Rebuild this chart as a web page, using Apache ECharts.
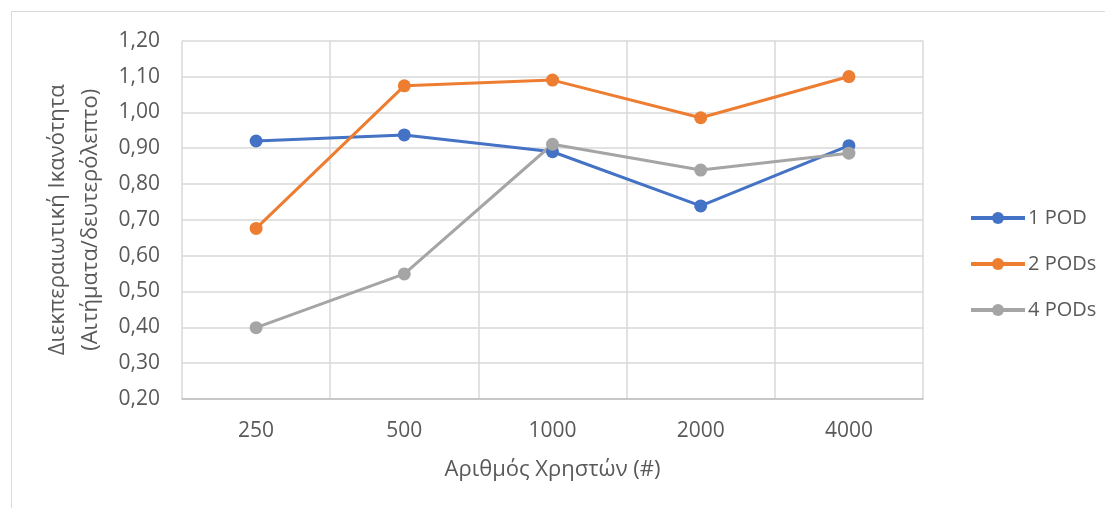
<!DOCTYPE html>
<html>
<head>
<meta charset="utf-8">
<script src="https://cdn.jsdelivr.net/npm/echarts@6/dist/echarts.min.js"></script>
<style>
  html, body { margin: 0; padding: 0; background: #fff; }
  #chart { width: 1105px; height: 508px; }
</style>
</head>
<body>
<div id="chart"></div>
<script>
// Users on the x axis, throughput (requests/second) per deployment size
const users = ['250', '500', '1000', '2000', '4000'];
const pod1 = [0.92, 0.937, 0.89, 0.739, 0.907];
const pod2 = [0.676, 1.074, 1.09, 0.985, 1.10];
const pod4 = [0.399, 0.549, 0.911, 0.839, 0.886];
const seriesNames = ['1 POD', '2 PODs', '4 PODs'];
const seriesColors = ['#4472C4', '#ED7D31', '#A5A5A5'];

const FONT = '"Open Sans", "Noto Sans", sans-serif';
const TEXT = '#595959';

const chart = echarts.init(document.getElementById('chart'), null, { renderer: 'canvas' });

function makeSeries(name, data, color) {
  return {
    name: name,
    type: 'line',
    data: data,
    symbol: 'circle',
    symbolSize: 13,
    lineStyle: { width: 3, color: color },
    itemStyle: { color: color },
    emphasis: { disabled: true },
    animation: false
  };
}

chart.setOption({
  animation: false,
  textStyle: { fontFamily: FONT },
  graphic: [{
    type: 'rect',
    silent: true,
    shape: { x: 11.5, y: 11.5, width: 1200, height: 600 },
    style: { fill: 'none', stroke: '#d9d9d9', lineWidth: 1 }
  }],
  grid: { left: 182, right: 182, top: 40.7, bottom: 109, containLabel: false },
  legend: {
    orient: 'vertical',
    left: 964,
    top: 203,
    itemWidth: 54,
    itemHeight: 15,
    itemGap: 26,
    itemSymbolSize: 15,
    lineStyle: { width: 4 },
    data: seriesNames,
    textStyle: { fontFamily: FONT, fontSize: 20, color: TEXT, padding: [0, 0, 0, -2] }
  },
  xAxis: {
    type: 'category',
    data: users,
    boundaryGap: true,
    name: 'Αριθμός Χρηστών (#)',
    nameLocation: 'middle',
    nameGap: 60,
    nameTextStyle: { fontFamily: FONT, fontSize: 22, color: TEXT },
    axisLine: { show: true, lineStyle: { color: '#bfbfbf', width: 1.5 } },
    axisTick: { show: false },
    axisLabel: { fontFamily: FONT, fontSize: 21, color: TEXT, margin: 22 },
    splitLine: { show: true, interval: 0, lineStyle: { color: '#d9d9d9', width: 1.5 } }
  },
  yAxis: {
    type: 'value',
    min: 0.2,
    max: 1.2,
    interval: 0.1,
    name: 'Διεκπεραιωτική Ικανότητα\n(Αιτήματα/δευτερόλεπτο)',
    nameLocation: 'middle',
    nameGap: 74,
    nameRotate: 90,
    nameTextStyle: { fontFamily: FONT, fontSize: 22, color: TEXT, lineHeight: 33 },
    axisLine: { show: false },
    axisTick: { show: false },
    axisLabel: {
      fontFamily: FONT, fontSize: 21, color: TEXT, margin: 22,
      formatter: v => v.toFixed(2).replace('.', ',')
    },
    splitLine: { show: true, lineStyle: { color: '#d9d9d9', width: 1.5 } }
  },
  series: [
    makeSeries(seriesNames[0], pod1, seriesColors[0]),
    makeSeries(seriesNames[1], pod2, seriesColors[1]),
    makeSeries(seriesNames[2], pod4, seriesColors[2])
  ]
});
</script>
</body>
</html>
